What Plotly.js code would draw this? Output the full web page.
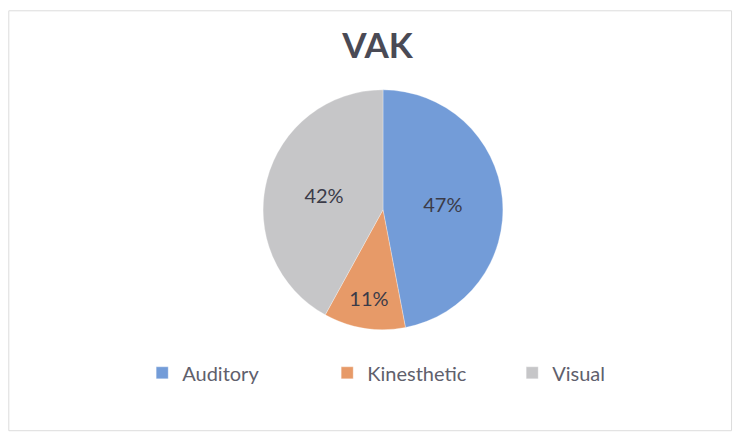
<!DOCTYPE html>
<html>
<head>
<meta charset="utf-8">
<script src="https://cdn.plot.ly/plotly-3.0.1.min.js"></script>
<style>html,body{margin:0;padding:0;background:#fff;}#chart{width:733px;height:432px;}</style>
</head>
<body>
<div id="chart"></div>
<script>
const categories = ["Auditory", "Kinesthetic", "Visual"];
const values = [47, 11, 42];
const colors = ["#739cd8", "#e79a68", "#c6c6c8"];

const data = [{
  type: "pie",
  labels: categories,
  values: values,
  sort: false,
  direction: "clockwise",
  rotation: 0,
  marker: {colors: colors, line: {color: "rgba(255,255,255,0.6)", width: 0.5}},
  textinfo: "percent",
  texttemplate: "%{percent:.0%}",
  textposition: "inside",
  insidetextorientation: "horizontal",
  textfont: {family: "Lato, 'Open Sans', sans-serif", size: 20, color: "#3b3b48"},
  hoverinfo: "label+percent",
  domain: {x: [0.355, 0.69], y: [0.237, 0.792]}
}];

const layout = {
  width: 733, height: 432,
  margin: {l: 0, r: 0, t: 0, b: 0},
  paper_bgcolor: "#ffffff",
  title: {text: "<b>VAK</b>", x: 0.515, xanchor: "center", y: 0.893, yanchor: "middle",
          font: {family: "Lato, 'Open Sans', sans-serif", size: 35, color: "#4a4a55"}},
  showlegend: true,
  legend: {orientation: "h", x: 0.194, xanchor: "left", y: 0.137, yanchor: "middle",
           font: {family: "Lato, 'Open Sans', sans-serif", size: 20, color: "#60606c"},
           entrywidth: 140, entrywidthmode: "pixels", itemwidth: 30},
  shapes: [{type: "rect", xref: "paper", yref: "paper", x0: 0.012, x1: 0.998, y0: 0.003, y1: 0.975,
            line: {color: "#dcdcdc", width: 1}}]
};

Plotly.newPlot("chart", data, layout, {displayModeBar: false, staticPlot: true});
</script>
</body>
</html>
